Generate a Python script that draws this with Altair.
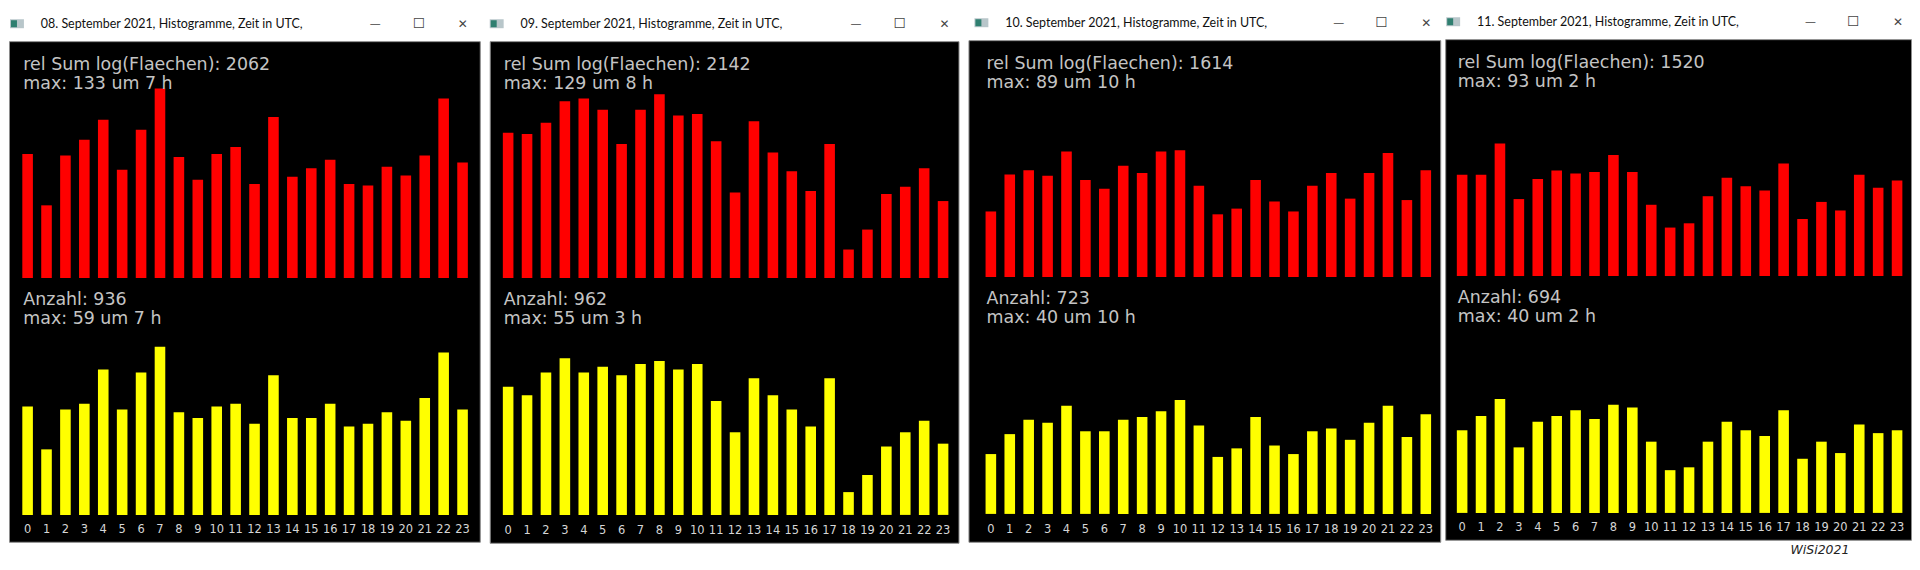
import altair as alt
import pandas as pd

# ---------------- data ----------------
hours = list(range(24))
dates = ["08. September 2021", "09. September 2021", "10. September 2021", "11. September 2021"]

flaechen_08 = [87, 51, 86, 97, 111, 76, 104, 133, 85, 69, 87, 92, 66, 113, 71, 77, 83, 66, 65, 78, 72, 86, 126, 81]
flaechen_09 = [102, 101, 109, 124, 126, 118, 94, 118, 129, 114, 115, 96, 60, 110, 88, 75, 61, 94, 20, 34, 59, 64, 77, 54]
flaechen_10 = [46, 72, 75, 71, 88, 68, 62, 78, 73, 88, 89, 64, 44, 48, 68, 53, 46, 64, 73, 55, 73, 87, 54, 75]
flaechen_11 = [71, 71, 93, 54, 68, 74, 72, 73, 85, 73, 50, 34, 37, 56, 69, 63, 60, 79, 40, 52, 46, 71, 62, 67]

anzahl_08 = [38, 23, 37, 39, 51, 37, 50, 59, 36, 34, 38, 39, 32, 49, 34, 34, 39, 31, 32, 36, 33, 41, 57, 37]
anzahl_09 = [45, 42, 50, 55, 50, 52, 49, 53, 54, 51, 53, 40, 29, 48, 42, 37, 31, 48, 8, 14, 24, 29, 33, 25]
anzahl_10 = [21, 28, 33, 32, 38, 29, 29, 33, 34, 36, 40, 31, 20, 23, 34, 24, 21, 29, 30, 26, 32, 38, 27, 35]
anzahl_11 = [29, 34, 40, 23, 32, 34, 36, 33, 38, 37, 25, 15, 16, 25, 32, 29, 27, 36, 19, 25, 21, 31, 28, 29]

flaechen = [flaechen_08, flaechen_09, flaechen_10, flaechen_11]
anzahl = [anzahl_08, anzahl_09, anzahl_10, anzahl_11]
signature = "WiSi2021"

# ---------------- layout / style ----------------
layout = [
    dict(w=473, tb=29, h=503, tx=32, c0=18.7, btn=(-105, -61, -17)),
    dict(w=471, tb=29, h=504, tx=31, c0=18.5, btn=(-103, -59, -14)),
    dict(w=474, tb=28, h=504, tx=37, c0=22.5, btn=(-102, -59, -14)),
    dict(w=468, tb=27, h=503, tx=32, c0=17.0, btn=(-101, -58, -13)),
]
STEP = 19.0
PIN = 0.44
RED_PX, RED_BASE = 1.432, 238.0
YEL_PX, YEL_BASE = 2.863, 476.0
TXT_COLOR = "#c4c4c4"
INFO_FONT = "DejaVu Sans ExtraLight, DejaVu Sans"
LABEL_FONT = "DejaVu Sans ExtraLight, DejaVu Sans"
TITLE_FONT = "Lato"

one = pd.DataFrame({"k": [0]})


def info_text(txt, x, y):
    return alt.Chart(pd.DataFrame({"t": [txt]})).mark_text(
        align="left", baseline="middle", font=INFO_FONT, fontSize=17.5, color=TXT_COLOR
    ).encode(x=alt.value(x), y=alt.value(y), text="t:N")


def window(i):
    L = layout[i]
    W, H, TB = L["w"], L["h"], L["tb"]
    df = pd.DataFrame({"hour": hours, "flaeche": flaechen[i], "anzahl": anzahl[i]})

    outer_total = W - (24 - PIN) * STEP
    po = outer_total / (2 * STEP)
    align = (L["c0"] - (1 - PIN) * STEP / 2) / outer_total
    xenc = alt.X(
        "hour:O",
        scale=alt.Scale(domain=hours, paddingInner=PIN, paddingOuter=po, align=align),
        axis=alt.Axis(
            title=None, ticks=False, domain=False, grid=False, labelAngle=0,
            labelFont=LABEL_FONT, labelFontSize=11.5, labelColor="#d6d6d6",
            labelBaseline="middle", labelPadding=0, tickSize=0, offset=-12,
            labelOverlap=False,
        ),
    )

    red_dom = [-(H - RED_BASE) / RED_PX, RED_BASE / RED_PX]
    yel_dom = [-(H - YEL_BASE) / YEL_PX, YEL_BASE / YEL_PX]

    red = alt.Chart(df).mark_bar(color="#ff0000").encode(
        x=xenc,
        y=alt.Y("flaeche:Q", scale=alt.Scale(domain=red_dom, nice=False, zero=False), axis=None),
        y2=alt.datum(0),
    )
    yel = alt.Chart(df).mark_bar(color="#ffff00").encode(
        x=xenc,
        y=alt.Y("anzahl:Q", scale=alt.Scale(domain=yel_dom, nice=False, zero=False), axis=None),
        y2=alt.datum(0),
    )

    f, a = flaechen[i], anzahl[i]
    fmax, amax = max(f), max(a)
    tx = L["c0"] - 4.3
    texts = [
        info_text(f"rel Sum log(Flaechen): {sum(f)}", tx, 24),
        info_text(f"max: {fmax} um {f.index(fmax)} h", tx, 43),
        info_text(f"Anzahl: {sum(a)}", tx, 260),
        info_text(f"max: {amax} um {a.index(amax)} h", tx, 279),
    ]
    layers = [red, yel] + texts
    if i == 3:
        layers.append(
            alt.Chart(pd.DataFrame({"t": [signature]})).mark_text(
                align="left", baseline="middle", font="DejaVu Sans", fontStyle="italic",
                fontSize=12.5, color="#222222"
            ).encode(x=alt.value(347), y=alt.value(H + 10), text="t:N")
        )
    panel = alt.layer(*layers).resolve_scale(y="independent").properties(
        width=W, height=H, view=alt.ViewBackground(fill="#000000", stroke="#8c8c8c")
    )

    # title bar
    cy = TB - 15.5
    ix = L["tx"] - 31
    title = alt.Chart(pd.DataFrame({"t": [f"{dates[i]}, Histogramme, Zeit in UTC,"]})).mark_text(
        align="left", baseline="middle", font=TITLE_FONT, fontSize=12.5, color="#111111"
    ).encode(x=alt.value(L["tx"]), y=alt.value(cy), text="t:N")
    icon_a = alt.Chart(one).mark_rect(color="#b8c6ca").encode(
        x=alt.value(ix), x2=alt.value(ix + 14), y=alt.value(cy - 4.5), y2=alt.value(cy + 4.5))
    icon_b = alt.Chart(one).mark_rect(color="#2f7f70").encode(
        x=alt.value(ix + 1), x2=alt.value(ix + 7), y=alt.value(cy - 3.5), y2=alt.value(cy + 3.5))
    btns = []
    for glyph, off, fs in zip(["—", "☐", "✕"], L["btn"], [11, 14, 12]):
        btns.append(
            alt.Chart(pd.DataFrame({"t": [glyph]})).mark_text(
                align="center", baseline="middle", font="DejaVu Sans", fontSize=fs, color="#444444"
            ).encode(x=alt.value(W + off), y=alt.value(cy), text="t:N")
        )
    bar = alt.layer(icon_a, icon_b, title, *btns).properties(
        width=W, height=TB, view=alt.ViewBackground(fill="#ffffff", stroke="transparent")
    )
    return alt.vconcat(bar, panel, spacing=0)


wins = [window(i) for i in range(4)]
chart = alt.hconcat(
    alt.hconcat(wins[0], wins[1], wins[2], spacing=8),
    wins[3],
    spacing=3,
).properties(padding=0, background="#ffffff").configure_view(stroke="transparent")

chart.save("out.html", embed_options={"renderer": "svg", "actions": False})
